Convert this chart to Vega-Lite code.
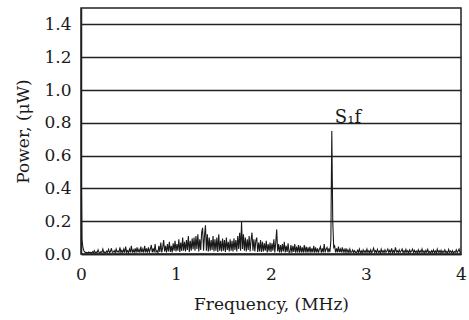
{
  "$schema": "https://vega.github.io/schema/vega-lite/v6.json",
  "autosize": {"type": "none"},
  "padding": {"left": 81, "top": 8, "right": 8, "bottom": 66},
  "width": 380,
  "height": 246,
  "background": "white",
  "config": {
    "view": {"stroke": "#222", "strokeWidth": 1.5},
    "font": "DejaVu Serif",
    "axis": {
      "labelFont": "DejaVu Serif",
      "titleFont": "DejaVu Serif",
      "labelFontSize": 17,
      "titleFontSize": 17,
      "titleFontWeight": "normal",
      "labelColor": "#1a1a1a",
      "titleColor": "#1a1a1a",
      "ticks": false,
      "labelOverlap": false,
      "labelFlush": false,
      "domainColor": "#222",
      "domainWidth": 1.5
    }
  },
  "datasets": {
    "spectrum": [
      {"f":0.0,"p":1.38},{"f":0.004,"p":0.45},{"f":0.01,"p":0.09},{"f":0.02,"p":0.04},{"f":0.03,"p":0.02},{"f":0.04,"p":0.012},{"f":0.05,"p":0.008},{"f":0.06,"p":0.01},{"f":0.07,"p":0.006},{"f":0.08,"p":0.012},{"f":0.09,"p":0.008},
      {"f":0.10,"p":0.01},{"f":0.11,"p":0.005},{"f":0.12,"p":0.014},{"f":0.13,"p":0.007},{"f":0.14,"p":0.02},{"f":0.15,"p":0.006},{"f":0.16,"p":0.012},{"f":0.17,"p":0.008},{"f":0.18,"p":0.025},{"f":0.19,"p":0.01},
      {"f":0.20,"p":0.006},{"f":0.21,"p":0.015},{"f":0.22,"p":0.009},{"f":0.23,"p":0.03},{"f":0.24,"p":0.008},{"f":0.25,"p":0.012},{"f":0.26,"p":0.006},{"f":0.27,"p":0.018},{"f":0.28,"p":0.01},{"f":0.29,"p":0.028},
      {"f":0.30,"p":0.008},{"f":0.31,"p":0.014},{"f":0.32,"p":0.035},{"f":0.33,"p":0.01},{"f":0.34,"p":0.012},{"f":0.35,"p":0.02},{"f":0.36,"p":0.007},{"f":0.37,"p":0.03},{"f":0.38,"p":0.012},{"f":0.39,"p":0.018},
      {"f":0.40,"p":0.01},{"f":0.41,"p":0.04},{"f":0.42,"p":0.008},{"f":0.43,"p":0.022},{"f":0.44,"p":0.009},{"f":0.45,"p":0.03},{"f":0.46,"p":0.008},{"f":0.47,"p":0.045},{"f":0.48,"p":0.01},{"f":0.49,"p":0.02},
      {"f":0.50,"p":0.008},{"f":0.51,"p":0.03},{"f":0.52,"p":0.01},{"f":0.53,"p":0.05},{"f":0.54,"p":0.008},{"f":0.55,"p":0.025},{"f":0.56,"p":0.01},{"f":0.57,"p":0.035},{"f":0.58,"p":0.008},{"f":0.59,"p":0.04},
      {"f":0.60,"p":0.01},{"f":0.61,"p":0.028},{"f":0.62,"p":0.008},{"f":0.63,"p":0.045},{"f":0.64,"p":0.01},{"f":0.65,"p":0.03},{"f":0.66,"p":0.008},{"f":0.67,"p":0.05},{"f":0.68,"p":0.01},{"f":0.69,"p":0.035},
      {"f":0.70,"p":0.008},{"f":0.71,"p":0.04},{"f":0.72,"p":0.012},{"f":0.73,"p":0.03},{"f":0.74,"p":0.055},{"f":0.75,"p":0.01},{"f":0.76,"p":0.035},{"f":0.77,"p":0.01},{"f":0.78,"p":0.06},{"f":0.79,"p":0.012},
      {"f":0.80,"p":0.02},{"f":0.81,"p":0.008},{"f":0.82,"p":0.05},{"f":0.83,"p":0.012},{"f":0.84,"p":0.07},{"f":0.85,"p":0.01},{"f":0.86,"p":0.04},{"f":0.87,"p":0.085},{"f":0.88,"p":0.015},{"f":0.89,"p":0.05},
      {"f":0.90,"p":0.01},{"f":0.91,"p":0.06},{"f":0.92,"p":0.015},{"f":0.93,"p":0.075},{"f":0.94,"p":0.012},{"f":0.95,"p":0.05},{"f":0.96,"p":0.01},{"f":0.97,"p":0.065},{"f":0.98,"p":0.02},{"f":0.99,"p":0.08},
      {"f":1.00,"p":0.015},{"f":1.01,"p":0.06},{"f":1.02,"p":0.02},{"f":1.03,"p":0.09},{"f":1.04,"p":0.012},{"f":1.05,"p":0.07},{"f":1.06,"p":0.018},{"f":1.07,"p":0.1},{"f":1.08,"p":0.02},{"f":1.09,"p":0.075},
      {"f":1.10,"p":0.015},{"f":1.11,"p":0.085},{"f":1.12,"p":0.025},{"f":1.13,"p":0.11},{"f":1.14,"p":0.012},{"f":1.15,"p":0.08},{"f":1.16,"p":0.02},{"f":1.17,"p":0.095},{"f":1.18,"p":0.03},{"f":1.19,"p":0.1},
      {"f":1.20,"p":0.02},{"f":1.21,"p":0.11},{"f":1.22,"p":0.03},{"f":1.23,"p":0.12},{"f":1.24,"p":0.015},{"f":1.25,"p":0.09},{"f":1.26,"p":0.025},{"f":1.27,"p":0.13},{"f":1.28,"p":0.16},{"f":1.29,"p":0.02},
      {"f":1.30,"p":0.11},{"f":1.31,"p":0.175},{"f":1.32,"p":0.02},{"f":1.33,"p":0.12},{"f":1.34,"p":0.015},{"f":1.35,"p":0.1},{"f":1.36,"p":0.02},{"f":1.37,"p":0.085},{"f":1.38,"p":0.025},{"f":1.39,"p":0.11},
      {"f":1.40,"p":0.015},{"f":1.41,"p":0.09},{"f":1.42,"p":0.02},{"f":1.43,"p":0.1},{"f":1.44,"p":0.012},{"f":1.45,"p":0.12},{"f":1.46,"p":0.02},{"f":1.47,"p":0.08},{"f":1.48,"p":0.015},{"f":1.49,"p":0.095},
      {"f":1.50,"p":0.02},{"f":1.51,"p":0.085},{"f":1.52,"p":0.012},{"f":1.53,"p":0.1},{"f":1.54,"p":0.025},{"f":1.55,"p":0.075},{"f":1.56,"p":0.015},{"f":1.57,"p":0.09},{"f":1.58,"p":0.02},{"f":1.59,"p":0.08},
      {"f":1.60,"p":0.015},{"f":1.61,"p":0.095},{"f":1.62,"p":0.025},{"f":1.63,"p":0.085},{"f":1.64,"p":0.015},{"f":1.65,"p":0.11},{"f":1.66,"p":0.03},{"f":1.67,"p":0.13},{"f":1.68,"p":0.02},{"f":1.69,"p":0.195},
      {"f":1.70,"p":0.03},{"f":1.71,"p":0.12},{"f":1.72,"p":0.02},{"f":1.73,"p":0.1},{"f":1.74,"p":0.015},{"f":1.75,"p":0.09},{"f":1.76,"p":0.025},{"f":1.77,"p":0.11},{"f":1.78,"p":0.015},{"f":1.79,"p":0.085},
      {"f":1.80,"p":0.13},{"f":1.81,"p":0.02},{"f":1.82,"p":0.09},{"f":1.83,"p":0.015},{"f":1.84,"p":0.08},{"f":1.85,"p":0.1},{"f":1.86,"p":0.012},{"f":1.87,"p":0.07},{"f":1.88,"p":0.015},{"f":1.89,"p":0.085},
      {"f":1.90,"p":0.012},{"f":1.91,"p":0.075},{"f":1.92,"p":0.015},{"f":1.93,"p":0.065},{"f":1.94,"p":0.02},{"f":1.95,"p":0.08},{"f":1.96,"p":0.01},{"f":1.97,"p":0.06},{"f":1.98,"p":0.015},{"f":1.99,"p":0.07},
      {"f":2.00,"p":0.012},{"f":2.01,"p":0.065},{"f":2.02,"p":0.02},{"f":2.03,"p":0.09},{"f":2.04,"p":0.01},{"f":2.05,"p":0.07},{"f":2.06,"p":0.15},{"f":2.07,"p":0.015},{"f":2.08,"p":0.06},{"f":2.09,"p":0.01},
      {"f":2.10,"p":0.055},{"f":2.11,"p":0.01},{"f":2.12,"p":0.06},{"f":2.13,"p":0.015},{"f":2.14,"p":0.075},{"f":2.15,"p":0.01},{"f":2.16,"p":0.05},{"f":2.17,"p":0.012},{"f":2.18,"p":0.065},{"f":2.19,"p":0.01},
      {"f":2.20,"p":0.012},{"f":2.21,"p":0.055},{"f":2.22,"p":0.008},{"f":2.23,"p":0.05},{"f":2.24,"p":0.012},{"f":2.25,"p":0.06},{"f":2.26,"p":0.008},{"f":2.27,"p":0.045},{"f":2.28,"p":0.01},{"f":2.29,"p":0.055},
      {"f":2.30,"p":0.008},{"f":2.31,"p":0.05},{"f":2.32,"p":0.01},{"f":2.33,"p":0.04},{"f":2.34,"p":0.008},{"f":2.35,"p":0.055},{"f":2.36,"p":0.01},{"f":2.37,"p":0.045},{"f":2.38,"p":0.008},{"f":2.39,"p":0.04},
      {"f":2.40,"p":0.01},{"f":2.41,"p":0.045},{"f":2.42,"p":0.008},{"f":2.43,"p":0.035},{"f":2.44,"p":0.01},{"f":2.45,"p":0.05},{"f":2.46,"p":0.008},{"f":2.47,"p":0.04},{"f":2.48,"p":0.01},{"f":2.49,"p":0.035},
      {"f":2.50,"p":0.008},{"f":2.51,"p":0.03},{"f":2.52,"p":0.045},{"f":2.53,"p":0.008},{"f":2.54,"p":0.035},{"f":2.55,"p":0.01},{"f":2.56,"p":0.06},{"f":2.57,"p":0.01},{"f":2.58,"p":0.03},{"f":2.59,"p":0.04},
      {"f":2.60,"p":0.01},{"f":2.61,"p":0.035},{"f":2.62,"p":0.012},{"f":2.63,"p":0.08},{"f":2.64,"p":0.75},{"f":2.65,"p":0.2},{"f":2.66,"p":0.04},{"f":2.67,"p":0.05},{"f":2.68,"p":0.01},{"f":2.69,"p":0.035},
      {"f":2.70,"p":0.01},{"f":2.71,"p":0.045},{"f":2.72,"p":0.012},{"f":2.73,"p":0.03},{"f":2.74,"p":0.01},{"f":2.75,"p":0.04},{"f":2.76,"p":0.012},{"f":2.77,"p":0.028},{"f":2.78,"p":0.01},{"f":2.79,"p":0.035},
      {"f":2.80,"p":0.01},{"f":2.81,"p":0.025},{"f":2.82,"p":0.008},{"f":2.83,"p":0.03},{"f":2.84,"p":0.01},{"f":2.85,"p":0.012},{"f":2.86,"p":0.025},{"f":2.87,"p":0.008},{"f":2.88,"p":0.02},{"f":2.89,"p":0.01},
      {"f":2.90,"p":0.008},{"f":2.91,"p":0.022},{"f":2.92,"p":0.01},{"f":2.93,"p":0.03},{"f":2.94,"p":0.008},{"f":2.95,"p":0.018},{"f":2.96,"p":0.006},{"f":2.97,"p":0.025},{"f":2.98,"p":0.01},{"f":2.99,"p":0.02},
      {"f":3.00,"p":0.008},{"f":3.01,"p":0.03},{"f":3.02,"p":0.01},{"f":3.03,"p":0.02},{"f":3.04,"p":0.006},{"f":3.05,"p":0.025},{"f":3.06,"p":0.008},{"f":3.07,"p":0.018},{"f":3.08,"p":0.035},{"f":3.09,"p":0.01},
      {"f":3.10,"p":0.02},{"f":3.11,"p":0.008},{"f":3.12,"p":0.028},{"f":3.13,"p":0.01},{"f":3.14,"p":0.018},{"f":3.15,"p":0.006},{"f":3.16,"p":0.03},{"f":3.17,"p":0.01},{"f":3.18,"p":0.02},{"f":3.19,"p":0.008},
      {"f":3.20,"p":0.025},{"f":3.21,"p":0.01},{"f":3.22,"p":0.018},{"f":3.23,"p":0.03},{"f":3.24,"p":0.008},{"f":3.25,"p":0.022},{"f":3.26,"p":0.01},{"f":3.27,"p":0.035},{"f":3.28,"p":0.008},{"f":3.29,"p":0.02},
      {"f":3.30,"p":0.01},{"f":3.31,"p":0.04},{"f":3.32,"p":0.012},{"f":3.33,"p":0.02},{"f":3.34,"p":0.008},{"f":3.35,"p":0.025},{"f":3.36,"p":0.01},{"f":3.37,"p":0.018},{"f":3.38,"p":0.03},{"f":3.39,"p":0.008},
      {"f":3.40,"p":0.02},{"f":3.41,"p":0.008},{"f":3.42,"p":0.028},{"f":3.43,"p":0.01},{"f":3.44,"p":0.02},{"f":3.45,"p":0.006},{"f":3.46,"p":0.025},{"f":3.47,"p":0.01},{"f":3.48,"p":0.018},{"f":3.49,"p":0.03},
      {"f":3.50,"p":0.008},{"f":3.51,"p":0.022},{"f":3.52,"p":0.01},{"f":3.53,"p":0.018},{"f":3.54,"p":0.006},{"f":3.55,"p":0.025},{"f":3.56,"p":0.008},{"f":3.57,"p":0.02},{"f":3.58,"p":0.01},{"f":3.59,"p":0.03},
      {"f":3.60,"p":0.008},{"f":3.61,"p":0.018},{"f":3.62,"p":0.006},{"f":3.63,"p":0.022},{"f":3.64,"p":0.01},{"f":3.65,"p":0.028},{"f":3.66,"p":0.008},{"f":3.67,"p":0.015},{"f":3.68,"p":0.006},{"f":3.69,"p":0.02},
      {"f":3.70,"p":0.01},{"f":3.71,"p":0.025},{"f":3.72,"p":0.008},{"f":3.73,"p":0.018},{"f":3.74,"p":0.006},{"f":3.75,"p":0.03},{"f":3.76,"p":0.01},{"f":3.77,"p":0.02},{"f":3.78,"p":0.008},{"f":3.79,"p":0.022},
      {"f":3.80,"p":0.006},{"f":3.81,"p":0.018},{"f":3.82,"p":0.01},{"f":3.83,"p":0.025},{"f":3.84,"p":0.008},{"f":3.85,"p":0.015},{"f":3.86,"p":0.006},{"f":3.87,"p":0.028},{"f":3.88,"p":0.01},{"f":3.89,"p":0.018},
      {"f":3.90,"p":0.008},{"f":3.91,"p":0.02},{"f":3.92,"p":0.006},{"f":3.93,"p":0.015},{"f":3.94,"p":0.01},{"f":3.95,"p":0.025},{"f":3.96,"p":0.008},{"f":3.97,"p":0.018},{"f":3.98,"p":0.03},{"f":3.99,"p":0.01},
      {"f":4.00,"p":0.01}
    ],
    "labels": [{"f": 2.81, "p": 0.83, "label": "S₁f"}]
  },
  "encoding": {
    "x": {
      "field": "f", "type": "quantitative",
      "scale": {"domain": [0, 4], "nice": false},
      "axis": {"values": [0, 1, 2, 3, 4], "format": "d", "title": "Frequency, (MHz)", "grid": false, "labelPadding": 12, "titlePadding": 14}
    },
    "y": {
      "field": "p", "type": "quantitative",
      "scale": {"domain": [0, 1.5], "nice": false},
      "axis": {"values": [0, 0.2, 0.4, 0.6, 0.8, 1.0, 1.2, 1.4], "format": ".1f", "title": "Power, (μW)", "grid": true, "gridColor": "#222", "gridWidth": 1.5, "gridOpacity": 1, "labelPadding": 10, "titlePadding": 11}
    }
  },
  "layer": [
    {
      "data": {"name": "spectrum"},
      "mark": {"type": "line", "color": "#1a1a1a", "strokeWidth": 1.1, "clip": true}
    },
    {
      "data": {"name": "labels"},
      "mark": {"type": "text", "font": "DejaVu Serif", "fontSize": 18, "color": "#1a1a1a", "align": "center", "baseline": "middle"},
      "encoding": {
        "text": {"field": "label"}
      }
    }
  ]
}
